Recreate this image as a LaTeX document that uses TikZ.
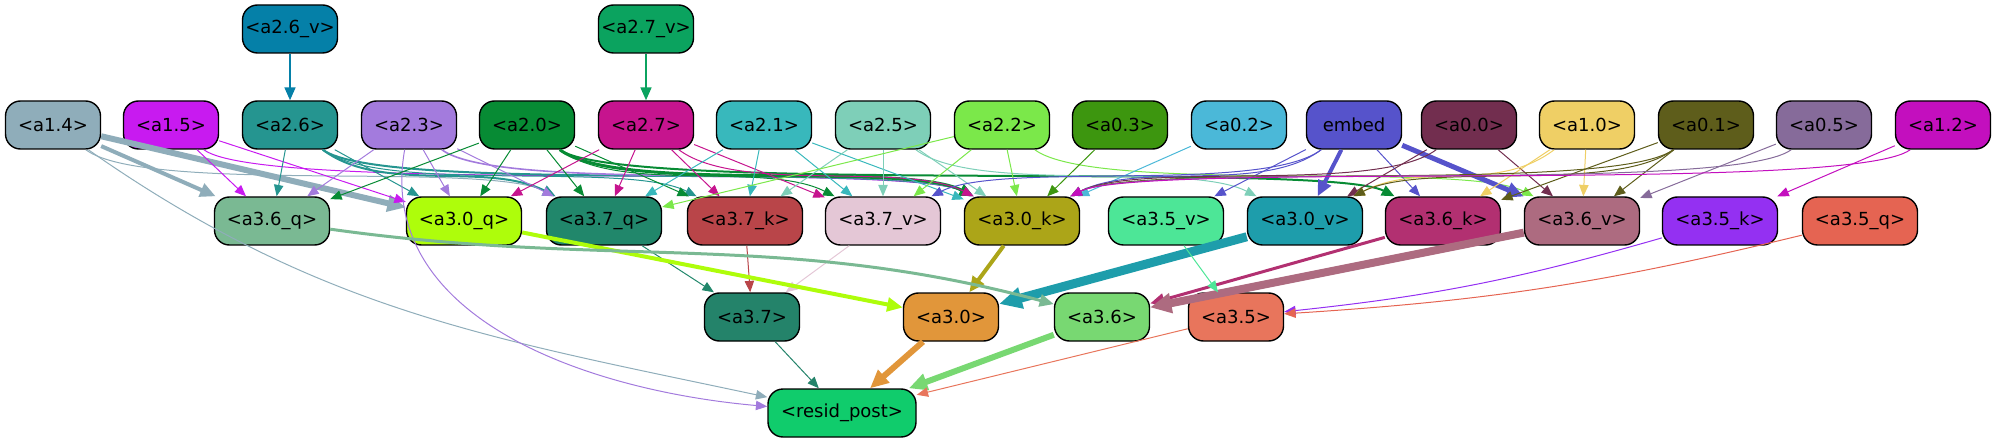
\documentclass[tikz,border=0pt]{standalone}
\usepackage{fontspec}
\setmainfont{DejaVu Sans}
\usetikzlibrary{arrows.meta}
\definecolor{ca26v}{HTML}{0580A8}
\definecolor{ca27v}{HTML}{0BA35F}
\definecolor{ca14}{HTML}{8FADBA}
\definecolor{ca15}{HTML}{C81AF0}
\definecolor{ca26}{HTML}{259590}
\definecolor{ca23}{HTML}{A37BDD}
\definecolor{ca20}{HTML}{078B34}
\definecolor{ca27}{HTML}{C6148E}
\definecolor{ca21}{HTML}{38B8BC}
\definecolor{ca25}{HTML}{7ECFB8}
\definecolor{ca22}{HTML}{7BE84A}
\definecolor{ca03}{HTML}{3D960F}
\definecolor{ca02}{HTML}{4BB8D8}
\definecolor{cemb}{HTML}{5653CB}
\definecolor{ca00}{HTML}{722E4F}
\definecolor{ca10}{HTML}{EFCF65}
\definecolor{ca01}{HTML}{5E5D1B}
\definecolor{ca05}{HTML}{866B9A}
\definecolor{ca12}{HTML}{C30FBE}
\definecolor{ca36q}{HTML}{7AB993}
\definecolor{ca30q}{HTML}{AEFD0B}
\definecolor{ca37q}{HTML}{21876B}
\definecolor{ca37k}{HTML}{B94549}
\definecolor{ca37v}{HTML}{E4C7D6}
\definecolor{ca30k}{HTML}{ACA518}
\definecolor{ca35v}{HTML}{4DE697}
\definecolor{ca30v}{HTML}{1E9DAB}
\definecolor{ca36k}{HTML}{B23071}
\definecolor{ca36v}{HTML}{AD6B80}
\definecolor{ca35k}{HTML}{9430F2}
\definecolor{ca35q}{HTML}{E56452}
\definecolor{ca37}{HTML}{24836A}
\definecolor{ca30}{HTML}{E1963A}
\definecolor{ca36}{HTML}{78D872}
\definecolor{ca35}{HTML}{E8755C}
\definecolor{cres}{HTML}{10CC6C}

\begin{document}
\begin{tikzpicture}[x=0.5pt, y=0.5pt,
  nd/.style={draw, line width=0.7pt, rounded corners=7.5pt,
             minimum width=47.5pt, minimum height=24pt, inner sep=0pt,
             font=\fontsize{9}{11}\selectfont},
  wide/.style={nd, minimum width=57.5pt},
  edg/.style={-{Triangle[length=5pt 1.4,width=4pt 1.4]}, line width=0.5pt},
  lr/.style={out=-37, in=153, out distance=37pt, in distance=39pt},
  rl/.style={out=217, in=27, out distance=37pt, in distance=39pt}
]
\useasboundingbox (0,0) rectangle (1996,-443);
% Top inputs
\node[nd, fill=ca26v] (a26v) at (290,-29) {<a2.6\_v>};
\node[nd, fill=ca27v] (a27v) at (646,-29) {<a2.7\_v>};
% Second rank
\node[nd, fill=ca14] (a14) at (53,-125) {<a1.4>};
\node[nd, fill=ca15] (a15) at (171,-125) {<a1.5>};
\node[nd, fill=ca26] (a26) at (290,-125) {<a2.6>};
\node[nd, fill=ca23] (a23) at (409,-125) {<a2.3>};
\node[nd, fill=ca20] (a20) at (527,-125) {<a2.0>};
\node[nd, fill=ca27] (a27) at (646,-125) {<a2.7>};
\node[nd, fill=ca21] (a21) at (764,-125) {<a2.1>};
\node[nd, fill=ca25] (a25) at (883,-125) {<a2.5>};
\node[nd, fill=ca22] (a22) at (1002,-125) {<a2.2>};
\node[nd, fill=ca03] (a03) at (1120,-125) {<a0.3>};
\node[nd, fill=ca02] (a02) at (1239,-125) {<a0.2>};
\node[nd, fill=cemb] (embed) at (1354,-125) {embed};
\node[nd, fill=ca00] (a00) at (1469,-125) {<a0.0>};
\node[nd, fill=ca10] (a10) at (1587,-125) {<a1.0>};
\node[nd, fill=ca01] (a01) at (1706,-125) {<a0.1>};
\node[nd, fill=ca05] (a05) at (1824,-125) {<a0.5>};
\node[nd, fill=ca12] (a12) at (1943,-125) {<a1.2>};
% q, k, v rank
\node[wide, fill=ca36q] (a36q) at (272,-221) {<a3.6\_q>};
\node[wide, fill=ca30q] (a30q) at (464,-221) {<a3.0\_q>};
\node[wide, fill=ca37q] (a37q) at (604,-221) {<a3.7\_q>};
\node[wide, fill=ca37k] (a37k) at (745,-221) {<a3.7\_k>};
\node[wide, fill=ca37v] (a37v) at (883,-221) {<a3.7\_v>};
\node[wide, fill=ca30k] (a30k) at (1022,-221) {<a3.0\_k>};
\node[wide, fill=ca35v] (a35v) at (1166,-221) {<a3.5\_v>};
\node[wide, fill=ca30v] (a30v) at (1305,-221) {<a3.0\_v>};
\node[wide, fill=ca36k] (a36k) at (1443,-221) {<a3.6\_k>};
\node[wide, fill=ca36v] (a36v) at (1582,-221) {<a3.6\_v>};
\node[wide, fill=ca35k] (a35k) at (1720,-221) {<a3.5\_k>};
\node[wide, fill=ca35q] (a35q) at (1860,-221) {<a3.5\_q>};
% Heads
\node[nd, fill=ca37] (a37) at (752,-317) {<a3.7>};
\node[nd, fill=ca30] (a30) at (951,-317) {<a3.0>};
\node[nd, fill=ca36] (a36) at (1102,-317) {<a3.6>};
\node[nd, fill=ca35] (a35) at (1236,-317) {<a3.5>};
\node[nd, fill=cres, minimum width=74pt] (resid) at (842,-413) {<resid\_post>};

% Arrows into the second rank
\draw[edg, ca26v, line width=1pt] (a26v) -- (a26);
\draw[edg, ca27v, line width=1pt] (a27v) -- (a27);
% Arrows from the left group
\draw[edg, ca14, line width=2pt] (a14) -- (a36q);
\draw[edg, ca14, line width=3pt] (a14) -- (a30q);
\draw[edg, ca14] (a14) to[lr] (a37q);
\draw[edg, ca14] (a14) to[out=-35, in=168] (resid);
\draw[edg, ca15] (a15) -- (a36q);
\draw[edg, ca15] (a15) -- (a30q);
\draw[edg, ca15] (a15) to[lr] (a30k);
\draw[edg, ca26] (a26) -- (a36q);
\draw[edg, ca26] (a26) -- (a30q);
\draw[edg, ca26, line width=1pt] (a26) to[lr] (a37q);
\draw[edg, ca26] (a26) to[lr] (a37k);
\draw[edg, ca26, line width=1pt] (a26) to[lr] (a30k);
\draw[edg, ca23] (a23) -- (a36q);
\draw[edg, ca23] (a23) -- (a30q);
\draw[edg, ca23] (a23) -- (a37q);
\draw[edg, ca23, line width=0.8pt] (a23) to[lr] (a30k);
\draw[edg, ca23] (a23) to[out=-100, in=175] (resid);
\draw[edg, ca20] (a20) -- (a36q);
\draw[edg, ca20] (a20) -- (a30q);
\draw[edg, ca20] (a20) -- (a37q);
\draw[edg, ca20] (a20) -- (a37k);
\draw[edg, ca20] (a20) to[lr] (a37v);
\draw[edg, ca20, line width=1.5pt] (a20) to[lr] (a30k);
\draw[edg, ca20, line width=1pt] (a20) to[lr] (a36k);
\draw[edg, ca27] (a27) -- (a30q);
\draw[edg, ca27] (a27) -- (a37q);
\draw[edg, ca27] (a27) -- (a37k);
\draw[edg, ca27] (a27) -- (a37v);
\draw[edg, ca27] (a27) to[lr] (a30k);
% Arrows from the middle group
\draw[edg, ca21] (a21) -- (a37q);
\draw[edg, ca21] (a21) -- (a37k);
\draw[edg, ca21] (a21) -- (a37v);
\draw[edg, ca21] (a21) -- (a30k);
\draw[edg, ca25] (a25) -- (a37k);
\draw[edg, ca25] (a25) -- (a37v);
\draw[edg, ca25] (a25) -- (a30k);
\draw[edg, ca25] (a25) to[lr] (a30v);
\draw[edg, ca22] (a22) -- (a37q);
\draw[edg, ca22] (a22) -- (a37v);
\draw[edg, ca22] (a22) -- (a30k);
\draw[edg, ca22] (a22) to[lr] (a36v);
\draw[edg, ca03] (a03) -- (a30k);
\draw[edg, ca02] (a02) -- (a30k);
% Arrows from the right group
\draw[edg, cemb] (embed) to[rl] (a37v);
\draw[edg, cemb] (embed) to[rl] (a30k);
\draw[edg, cemb] (embed) -- (a35v);
\draw[edg, cemb, line width=2pt] (embed) -- (a30v);
\draw[edg, cemb] (embed) -- (a36k);
\draw[edg, cemb, line width=2.5pt] (embed) -- (a36v);
\draw[edg, ca00] (a00) to[rl] (a30k);
\draw[edg, ca00] (a00) -- (a30v);
\draw[edg, ca00] (a00) -- (a36v);
\draw[edg, ca10] (a10) to[rl] (a30v);
\draw[edg, ca10] (a10) -- (a36k);
\draw[edg, ca10] (a10) -- (a36v);
\draw[edg, ca01] (a01) to[rl] (a30k);
\draw[edg, ca01] (a01) to[rl] (a30v);
\draw[edg, ca01] (a01) -- (a36k);
\draw[edg, ca01] (a01) -- (a36v);
\draw[edg, ca05] (a05) to[rl] (a30k);
\draw[edg, ca05] (a05) -- (a36v);
\draw[edg, ca12] (a12) to[rl] (a30k);
\draw[edg, ca12] (a12) -- (a35k);
% q, k, v into heads
\draw[edg, ca37q] (a37q) -- (a37);
\draw[edg, ca37k] (a37k) -- (a37);
\draw[edg, ca37v] (a37v) -- (a37);
\draw[edg, ca30q, line width=2pt] (a30q) -- (a30);
\draw[edg, ca30k, line width=2pt] (a30k) -- (a30);
\draw[edg, ca30v, line width=4.5pt] (a30v) -- (a30);
\draw[edg, ca36q, line width=1.5pt] (a36q) to[out=-8, in=165] (a36);
\draw[edg, ca36k, line width=1.5pt] (a36k) -- (a36);
\draw[edg, ca36v, line width=4pt] (a36v) -- (a36);
\draw[edg, ca35v] (a35v) -- (a35);
\draw[edg, ca35k] (a35k) to[bend left=5] (a35);
\draw[edg, ca35q] (a35q) to[bend left=5] (a35);
% Heads into resid_post
\draw[edg, ca37] (a37) -- (resid);
\draw[edg, ca30, line width=3pt] (a30) -- (resid);
\draw[edg, ca36, line width=3pt] (a36) -- (resid);
\draw[edg, ca35] (a35) -- (resid);
\end{tikzpicture}
\end{document}
